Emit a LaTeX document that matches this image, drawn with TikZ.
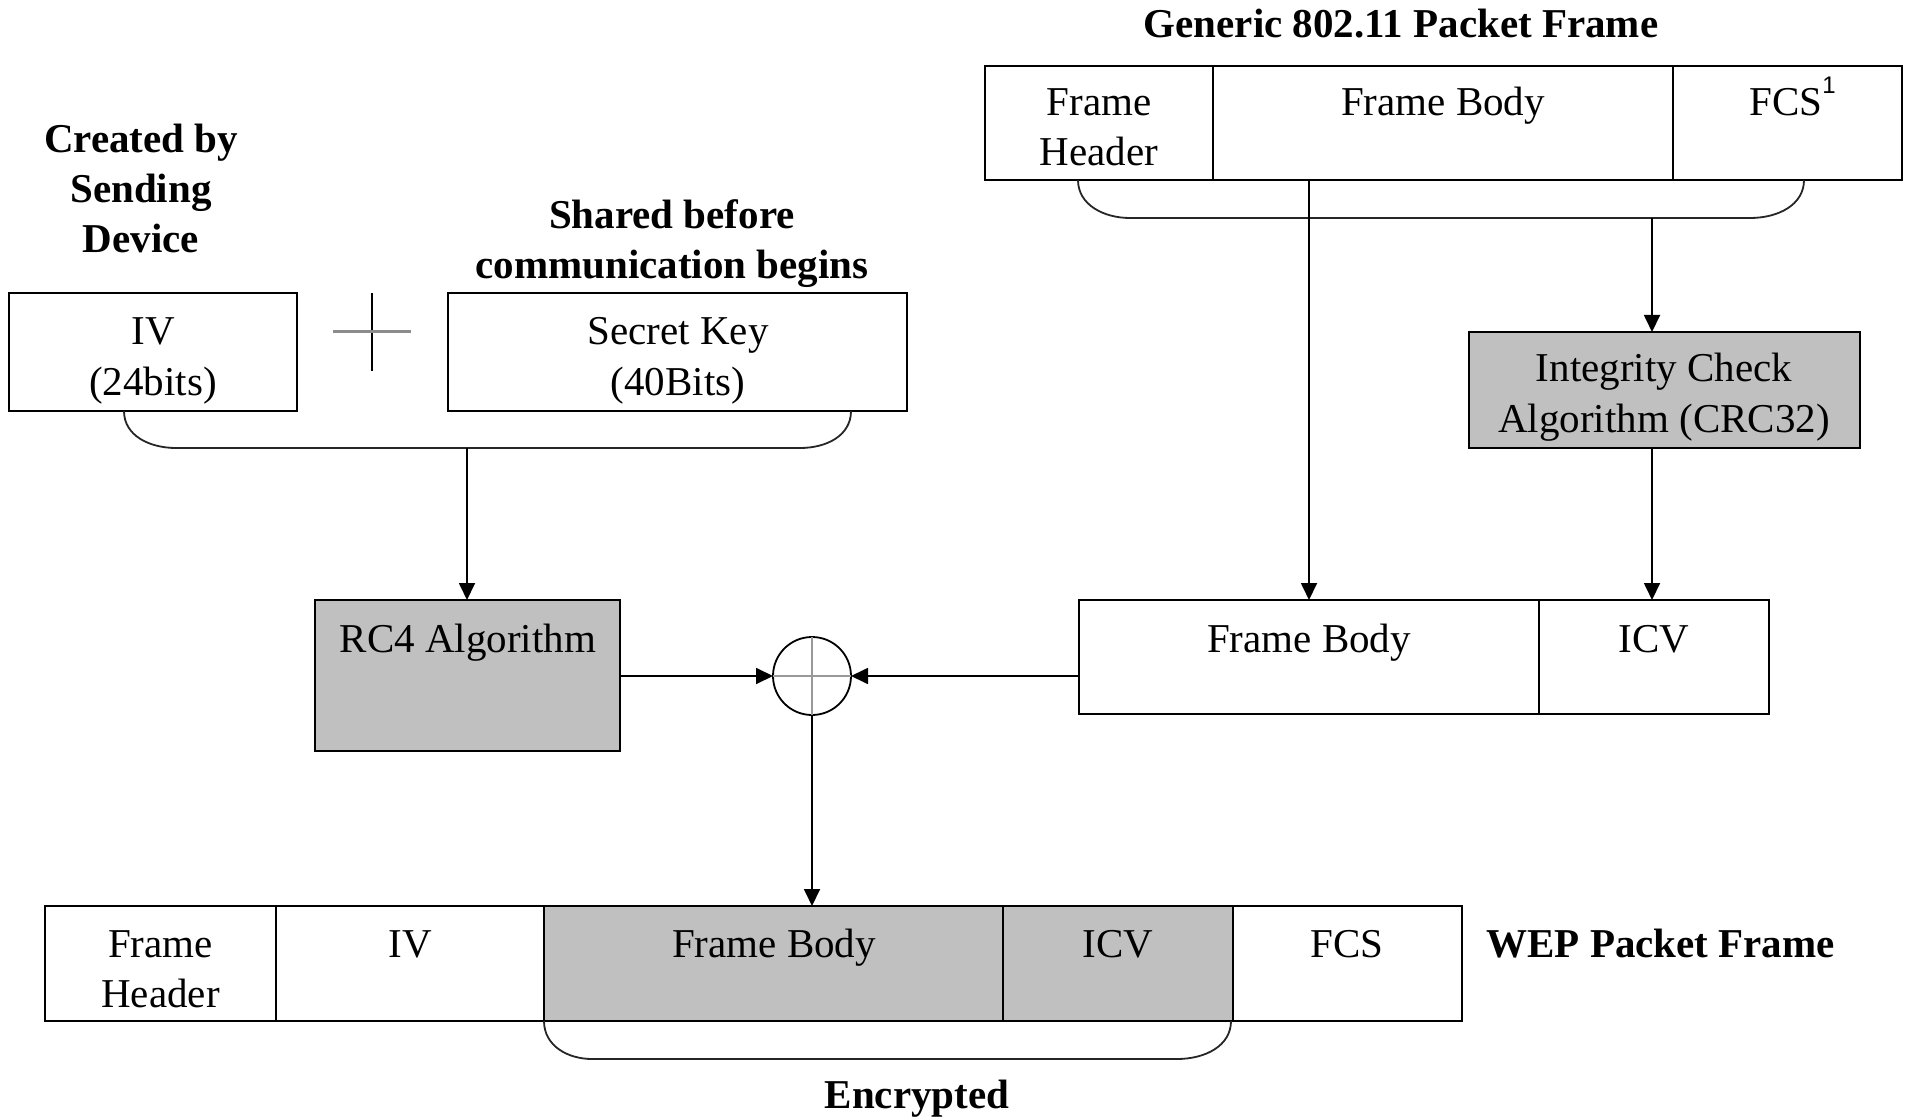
\documentclass[tikz,border=0pt]{standalone}
\usepackage{fontspec}
\setmainfont{Liberation Serif}
\newfontfamily\supfont{Liberation Sans}
\usetikzlibrary{arrows.meta,calc}
\definecolor{boxgray}{RGB}{192,192,192}
\newcommand\tfont{\fontsize{20.5pt}{25pt}\selectfont}
\begin{document}
\begin{tikzpicture}[x=0.5pt,y=-0.5pt,
  cell/.style={draw, line width=1pt, anchor=north west, inner sep=0pt, outer sep=0pt},
  graycell/.style={cell, fill=boxgray},
  txt/.style={anchor=base, align=center, inner sep=0pt, font=\tfont},
  btxt/.style={txt, font=\tfont\bfseries},
  arr/.style={line width=0.9pt, -{Triangle[length=8.5pt,width=8pt]}},
  brace/.style={line width=0.9pt, draw=black!85},
]
\fill[white] (0,0) rectangle (1905,1117);
\useasboundingbox (0,0) rectangle (1905,1117);

% ---- top left: IV + secret key ----
\node[cell, minimum width=144pt, minimum height=59pt] (iv) at (9,293) {};
\node[cell, minimum width=229.5pt, minimum height=59pt] (sk) at (448,293) {};
\node[btxt] (created) at (141,253) {Created by\\Sending\\Device};
\node[btxt] (shared) at (672,279) {Shared before\\communication begins};
\node[txt] (ivt) at (153,395) {IV\\(24bits)};
\node[txt] (skt) at (678,395) {Secret Key\\(40Bits)};
\draw[line width=0.9pt] (372,293) -- (372,371);
\draw[black!45, line width=1.5pt] (333,332) -- (411,332);
\draw[brace] (124,411) .. controls (124,436) and (150,448) .. (176,448) -- (800,448) .. controls (826,448) and (851,436) .. (851,411);
\coordinate (b1) at (467,448);

% ---- RC4 ----
\node[graycell, minimum width=152.5pt, minimum height=75.5pt] (rc4) at (315,600) {};
\node[txt] (rc4t) at (468,652) {RC4 Algorithm};

% ---- generic frame ----
\node[btxt] (title) at (1401,38) {Generic 802.11 Packet Frame};
\node[cell, minimum width=114pt, minimum height=57pt] (gfh) at (985,66) {};
\node[cell, minimum width=230pt, minimum height=57pt] (gfb) at (1213,66) {};
\node[cell, minimum width=114.5pt, minimum height=57pt] (gfcs) at (1673,66) {};
\node[txt] (gfht) at (1099,166) {Frame\\Header};
\node[txt] (gfbt) at (1443,116) {Frame Body};
\node[txt] (gfcst) at (1786,116) {FCS\rlap{\raisebox{11pt}{\fontsize{12pt}{12pt}\supfont 1}}};
\draw[brace] (1078,180) .. controls (1078,205) and (1104,218) .. (1130,218) -- (1750,218) .. controls (1778,218) and (1804,205) .. (1804,180);
\coordinate (b2) at (1652,218);

% ---- integrity check ----
\node[graycell, minimum width=195.5pt, minimum height=58pt] (ica) at (1469,332) {};
\node[txt] (icat) at (1664,432) {Integrity Check\\Algorithm (CRC32)};

% ---- frame body + ICV ----
\node[cell, minimum width=230pt, minimum height=57pt] (fb2) at (1079,600) {};
\node[cell, minimum width=115pt, minimum height=57pt] (icv2) at (1539,600) {};
\node[txt] (fb2t) at (1309,652) {Frame Body};
\node[txt] (icv2t) at (1654,652) {ICV};

% ---- XOR ----
\node[circle, draw, line width=0.9pt, minimum size=39pt, inner sep=0pt, outer sep=0pt] (xor) at (812,676) {};
\draw[black!40, line width=1.2pt] (xor.north) -- (xor.south) (xor.west) -- (xor.east);

% ---- WEP frame ----
\node[cell, minimum width=115.5pt, minimum height=57.5pt] (wfh) at (45,906) {};
\node[cell, minimum width=134pt, minimum height=57.5pt] (wiv) at (276,906) {};
\node[graycell, minimum width=229.5pt, minimum height=57.5pt] (wfb) at (544,906) {};
\node[graycell, minimum width=115pt, minimum height=57.5pt] (wicv) at (1003,906) {};
\node[cell, minimum width=114.5pt, minimum height=57.5pt] (wfcs) at (1233,906) {};
\node[txt] (wfht) at (160.5,1007) {Frame\\Header};
\node[txt] (wivt) at (410,957) {IV};
\node[txt] (wfbt) at (774,957) {Frame Body};
\node[txt] (wicvt) at (1118,957) {ICV};
\node[txt] (wfcst) at (1347,957) {FCS};
\node[btxt, anchor=base west] (wep) at (1486,957) {WEP Packet Frame};
\draw[brace] (544,1021) .. controls (544,1046) and (568,1059) .. (592,1059) -- (1177,1059) .. controls (1205,1059) and (1231,1046) .. (1231,1021);
\node[btxt] (enc) at (917,1108) {Encrypted};

% ---- connectors ----
\draw[arr] (b1) -- (b1 |- rc4.north);
\draw[arr] (xor.west -| rc4.east) -- (xor.west);
\draw[arr] (xor.east -| fb2.west) -- (xor.east);
\draw[arr] (xor.south) -- (xor.south |- wfb.north);
\draw[arr] (fb2.north |- gfb.south) -- (fb2.north);
\draw[arr] (b2) -- (b2 |- ica.north);
\draw[arr] (b2 |- ica.south) -- (b2 |- icv2.north);
\end{tikzpicture}
\end{document}
